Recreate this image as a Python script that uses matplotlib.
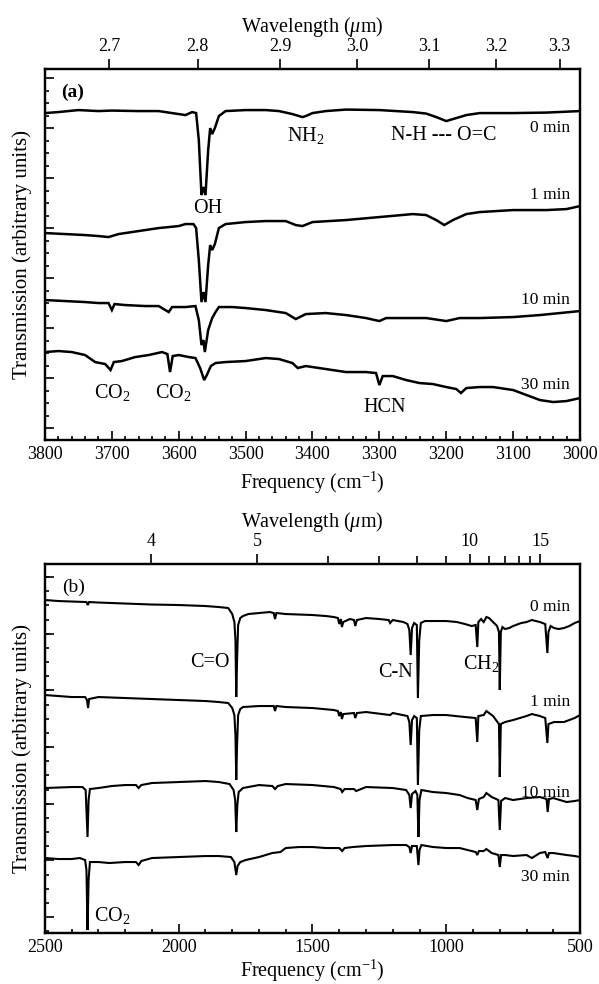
import matplotlib
matplotlib.use('Agg')
import matplotlib.pyplot as plt
from matplotlib.ticker import MultipleLocator, NullFormatter

plt.rcParams['font.family'] = ['Liberation Serif', 'DejaVu Serif']
plt.rcParams['mathtext.fontset'] = 'custom'
plt.rcParams['mathtext.rm'] = 'Liberation Serif'
plt.rcParams['mathtext.it'] = 'Liberation Serif:italic'
plt.rcParams['mathtext.bf'] = 'Liberation Serif:bold'

# ---------------- Panel (a) data: frequency (cm-1) vs transmission (arb.) ----
A0_NU = [3800, 3780, 3750, 3720, 3700, 3660, 3630, 3600, 3590, 3580, 3574, 3570, 3566, 3563, 3560,
         3556, 3553, 3550, 3546, 3540, 3530, 3500, 3470, 3450, 3430, 3415, 3410, 3400, 3380, 3350,
         3300, 3250, 3230, 3215, 3200, 3185, 3170, 3150, 3100, 3050, 3000]
A0_T = [32.7, 32.8, 33.0, 32.9, 32.95, 32.9, 32.9, 32.6, 32.5, 32.8, 32.7, 30.0, 24.5, 25.3, 24.5,
        29.0, 31.2, 30.6, 31.2, 32.4, 32.9, 33.0, 33.0, 32.9, 32.6, 32.3, 32.4, 32.7, 32.9, 33.05,
        33.0, 32.8, 32.65, 32.3, 31.9, 32.2, 32.5, 32.7, 32.7, 32.75, 32.9]

A1_NU = [3800, 3770, 3740, 3720, 3705, 3690, 3660, 3630, 3600, 3590, 3578, 3574, 3570, 3566, 3563,
         3560, 3556, 3553, 3550, 3546, 3540, 3530, 3500, 3470, 3440, 3425, 3415, 3400, 3350, 3300,
         3250, 3230, 3215, 3203, 3190, 3170, 3150, 3100, 3050, 3020, 3000]
A1_T = [20.7, 20.6, 20.5, 20.4, 20.3, 20.6, 20.9, 21.2, 21.4, 21.6, 21.6, 21.2, 18.0, 13.8, 14.8,
        13.8, 17.5, 19.5, 19.0, 19.6, 21.2, 21.6, 21.8, 21.9, 21.9, 21.5, 21.4, 21.8, 22.0, 22.3,
        22.6, 22.5, 22.0, 21.5, 22.0, 22.6, 22.8, 23.0, 23.0, 23.1, 23.4]

A10_NU = [3800, 3770, 3740, 3720, 3705, 3700, 3696, 3680, 3650, 3630, 3615, 3610, 3590, 3575, 3570,
          3566, 3563, 3561, 3556, 3550, 3545, 3540, 3520, 3500, 3470, 3440, 3425, 3410, 3380, 3350,
          3320, 3300, 3290, 3260, 3230, 3200, 3180, 3150, 3100, 3060, 3030, 3000]
A10_T = [14.0, 13.9, 13.8, 13.7, 13.7, 13.0, 13.6, 13.5, 13.4, 13.4, 12.8, 13.3, 13.3, 13.4, 12.0,
         9.5, 10.0, 8.8, 11.0, 12.2, 12.8, 13.3, 13.3, 13.2, 13.0, 12.7, 12.1, 12.6, 12.7, 12.5,
         12.2, 11.9, 12.2, 12.2, 12.2, 11.9, 12.2, 12.2, 12.3, 12.5, 12.7, 12.9]

A30_NU = [3800, 3780, 3760, 3740, 3725, 3710, 3702, 3697, 3685, 3665, 3645, 3625, 3617, 3613, 3609,
          3600, 3585, 3575, 3568, 3562, 3558, 3552, 3545, 3530, 3500, 3470, 3450, 3430, 3422, 3410,
          3380, 3350, 3320, 3305, 3300, 3295, 3280, 3260, 3240, 3220, 3200, 3185, 3178, 3170, 3150,
          3130, 3100, 3080, 3060, 3040, 3020, 3000]
A30_T = [8.8, 8.9, 8.8, 8.5, 7.8, 7.6, 7.0, 7.8, 7.9, 8.3, 8.5, 8.8, 8.6, 6.8, 8.4,
         8.5, 8.3, 8.2, 7.2, 6.0, 6.5, 7.4, 7.7, 7.8, 7.9, 8.2, 8.1, 7.7, 7.2, 7.4,
         7.1, 6.8, 6.8, 6.7, 5.5, 6.4, 6.4, 6.0, 5.7, 5.6, 5.3, 5.1, 4.7, 5.2, 5.3,
         5.3, 5.0, 4.5, 4.0, 3.8, 3.9, 4.2]

# ---------------- Panel (b) data ----------------
B0_NU = [2500, 2450, 2400, 2345, 2340, 2335, 2300, 2200, 2100, 2000, 1900, 1850, 1815, 1800, 1792,
         1788, 1785, 1782, 1778, 1770, 1760, 1740, 1700, 1660, 1645, 1640, 1635, 1600, 1550, 1500,
         1450, 1420, 1405, 1400, 1394, 1390, 1385, 1360, 1345, 1340, 1334, 1300, 1250, 1215, 1210,
         1200, 1160, 1145, 1138, 1133, 1128, 1120, 1110, 1106, 1101, 1095, 1080, 1050, 1000, 960,
         930, 905, 890, 884, 880, 870, 860, 850, 840, 825, 810, 803, 800, 796, 790,
         780, 765, 750, 720, 700, 680, 650, 630, 622, 618, 610, 597, 580, 560, 540,
         520, 500]
B0_T = [33.3, 33.2, 33.15, 33.1, 32.8, 33.1, 33.05, 32.95, 32.85, 32.8, 32.7, 32.6, 32.5, 31.9, 31.1,
        29.3, 23.6, 27.3, 30.8, 31.5, 31.7, 31.9, 32.0, 32.1, 32.0, 31.4, 32.0, 31.9, 31.85, 31.8,
        31.7, 31.6, 31.5, 30.9, 31.4, 30.6, 31.1, 31.4, 31.3, 30.7, 31.3, 31.5, 31.4, 31.3, 31.0,
        31.3, 31.1, 30.9, 30.3, 27.8, 30.5, 31.0, 30.8, 23.5, 29.3, 31.0, 31.2, 31.2, 31.2, 31.1,
        30.9, 30.7, 30.8, 28.6, 31.1, 31.4, 31.1, 31.6, 31.5, 31.1, 30.7, 30.1, 24.3, 30.1, 30.6,
        30.4, 30.5, 30.7, 31.0, 31.1, 31.3, 31.1, 30.9, 28.0, 30.1, 30.7, 30.5, 30.4, 30.5, 30.7,
        31.0, 31.2]

B1_NU = [2500, 2450, 2400, 2350, 2343, 2339, 2335, 2300, 2200, 2100, 2000, 1900, 1850, 1815, 1800,
         1792, 1788, 1785, 1782, 1778, 1770, 1760, 1700, 1645, 1640, 1635, 1600, 1500, 1420, 1405,
         1400, 1394, 1390, 1385, 1345, 1340, 1334, 1300, 1210, 1200, 1145, 1138, 1133, 1128, 1120,
         1110, 1106, 1101, 1095, 1050, 1000, 930, 890, 884, 880, 860, 850, 825, 803, 800,
         796, 780, 750, 700, 680, 650, 630, 622, 618, 597, 560, 520, 500]
B1_T = [23.8, 23.7, 23.6, 23.6, 23.3, 22.5, 23.4, 23.6, 23.5, 23.4, 23.3, 23.2, 23.1, 23.0, 22.5,
        21.8, 19.8, 15.3, 18.8, 21.8, 22.4, 22.6, 22.7, 22.7, 22.2, 22.7, 22.6, 22.5, 22.3, 22.2,
        21.7, 22.1, 21.4, 21.9, 22.0, 21.5, 22.0, 22.1, 21.8, 22.0, 21.7, 21.1, 18.8, 21.3, 21.7,
        21.5, 14.8, 20.3, 21.7, 21.8, 21.8, 21.6, 21.5, 19.1, 21.7, 21.8, 22.2, 21.7, 20.9, 15.6,
        20.9, 21.1, 21.3, 21.7, 21.9, 21.7, 21.5, 19.0, 20.9, 21.1, 21.1, 21.5, 21.8]

B10_NU = [2500, 2450, 2400, 2360, 2348, 2341, 2337, 2332, 2300, 2250, 2200, 2160, 2150, 2140, 2100,
          2000, 1900, 1850, 1810, 1795, 1789, 1785, 1781, 1776, 1760, 1700, 1650, 1640, 1630, 1600,
          1500, 1420, 1395, 1389, 1380, 1345, 1337, 1300, 1200, 1150, 1138, 1133, 1128, 1115, 1108,
          1104, 1100, 1093, 1050, 1000, 950, 920, 890, 884, 878, 860, 850, 830, 805, 800,
          795, 780, 750, 700, 650, 625, 621, 616, 600, 550, 520, 500]
B10_T = [14.5, 14.55, 14.6, 14.6, 14.3, 9.6, 13.3, 14.4, 14.5, 14.7, 14.8, 14.8, 14.5, 14.8, 15.0,
         15.1, 15.2, 15.1, 14.9, 14.3, 13.3, 10.1, 12.8, 14.1, 14.5, 14.8, 14.7, 14.4, 14.7, 14.9,
         14.8, 14.6, 14.4, 14.1, 14.4, 14.4, 14.2, 14.6, 14.5, 14.3, 13.8, 12.5, 13.9, 14.2, 13.8,
         9.6, 13.3, 14.3, 14.1, 14.0, 13.8, 13.5, 13.3, 12.3, 13.4, 13.6, 14.0, 13.6, 13.3, 10.3,
         13.2, 13.5, 13.3, 13.5, 13.6, 13.4, 12.1, 13.4, 13.5, 13.1, 13.2, 13.3]

B30_NU = [2500, 2450, 2400, 2370, 2350, 2345, 2341, 2337, 2332, 2300, 2260, 2200, 2160, 2150, 2140,
          2100, 2000, 1900, 1850, 1805, 1792, 1785, 1780, 1770, 1750, 1700, 1650, 1620, 1600, 1550,
          1500, 1450, 1400, 1389, 1380, 1350, 1300, 1200, 1150, 1138, 1133, 1128, 1110, 1104, 1100,
          1093, 1050, 1000, 950, 920, 890, 884, 878, 860, 850, 830, 805, 800, 795, 780,
          750, 700, 680, 650, 630, 621, 616, 600, 550, 520, 500]
B30_T = [7.5, 7.4, 7.4, 7.5, 7.3, 6.3, 0.3, 5.3, 7.1, 7.1, 7.0, 7.1, 7.1, 6.8, 7.2,
         7.5, 7.6, 7.7, 7.7, 7.6, 7.1, 5.8, 6.7, 7.1, 7.3, 7.6, 8.0, 8.1, 8.5, 8.6,
         8.6, 8.5, 8.5, 8.2, 8.5, 8.6, 8.7, 8.8, 8.8, 8.6, 8.0, 8.7, 8.7, 6.8, 8.3,
         8.8, 8.6, 8.5, 8.5, 8.3, 8.1, 7.8, 8.2, 8.2, 8.4, 8.0, 7.8, 6.6, 7.8, 7.8,
         7.7, 7.8, 7.5, 8.0, 8.1, 7.5, 8.0, 8.0, 7.8, 7.7, 7.6]

# ---------------- axes ranges and tick values ----------------
XLIM_A = (3800, 3000)
XLIM_B = (2500, 500)
YLIM_A = (0, 37.1)
YLIM_B = (0, 36.9)
WL_A = [2.7, 2.8, 2.9, 3.0, 3.1, 3.2, 3.3]
WL_B_MAJOR = [4, 5, 10, 15]
WL_B_MINOR = [6, 7, 8, 9, 11, 12, 13, 14]
TOP_B_RANGE = (3000, 480)   # frequency span shown by the top axis of panel (b)

# labels: (text, x, y)
TIME_A = [('0 min', 3015, 31.2), ('1 min', 3015, 24.5), ('10 min', 3015, 14.0), ('30 min', 3015, 5.5)]
BANDS_A = [('OH', 3556, 23.2), ('NH$_2$', 3410, 30.5), ('N-H --- O=C', 3203, 30.5),
           ('CO$_2$', 3700, 4.8), ('CO$_2$', 3609, 4.8), ('HCN', 3292, 3.3)]
TIME_B = [('0 min', 537, 32.6), ('1 min', 537, 23.1), ('10 min', 537, 14.0), ('30 min', 537, 5.6)]
BANDS_B = [('C=O', 1883, 27.1), ('C-N', 1188, 26.1), ('CH$_2$', 868, 27.0), ('CO$_2$', 2250, 1.8)]

fig = plt.figure(figsize=(5.99, 9.84), dpi=100)
axA = fig.add_axes([0.0751, 0.5528, 0.8932, 0.3770])
axB = fig.add_axes([0.0751, 0.0518, 0.8932, 0.3750])


def style(ax, xlim, ylim, xmaj, xmin, ymaj, ymin, yoff):
    ax.set_xlim(*xlim)
    ax.set_ylim(*ylim)
    ax.xaxis.set_major_locator(MultipleLocator(xmaj))
    ax.xaxis.set_minor_locator(MultipleLocator(xmin))
    ax.yaxis.set_major_locator(MultipleLocator(ymaj, offset=yoff))
    ax.yaxis.set_minor_locator(MultipleLocator(ymin, offset=yoff))
    ax.yaxis.set_major_formatter(NullFormatter())
    ax.tick_params(which='both', direction='in', top=True, right=False, width=1.2)
    ax.tick_params(which='major', length=6.5)
    ax.tick_params(which='minor', length=3.2)
    ax.tick_params(axis='x', labelsize=13, pad=4)
    for s in ax.spines.values():
        s.set_linewidth(1.6)


style(axA, XLIM_A, YLIM_A, 100, 20, 5, 1.25, 1.2)
style(axB, XLIM_B, YLIM_B, 500, 100, 5.667, 1.4167, 1.6)

for nu, t in [(A0_NU, A0_T), (A1_NU, A1_T), (A10_NU, A10_T), (A30_NU, A30_T)]:
    axA.plot(nu, t, color='black', lw=1.8, solid_joinstyle='miter')
for nu, t in [(B0_NU, B0_T), (B1_NU, B1_T), (B10_NU, B10_T), (B30_NU, B30_T)]:
    axB.plot(nu, t, color='black', lw=1.5, solid_joinstyle='miter')

for txt, x, y in TIME_A:
    axA.text(x, y, txt, fontsize=12.5, ha='right', va='center')
for txt, x, y in BANDS_A:
    axA.text(x, y, txt, fontsize=14.5, ha='center', va='center')
for txt, x, y in TIME_B:
    axB.text(x, y, txt, fontsize=12.5, ha='right', va='center')
for txt, x, y in BANDS_B:
    axB.text(x, y, txt, fontsize=14.5, ha='center', va='center')

axA.text(0.03, 0.938, '(a)', transform=axA.transAxes, fontsize=14, fontweight='bold', va='center')
axB.text(0.032, 0.938, '(b)', transform=axB.transAxes, fontsize=14, va='center')

for ax, h, off in [(axA, 371, 43), (axB, 369, 38)]:
    ax.set_xlabel('Frequency (cm$^{-1}$)', fontsize=14.5)
    ax.xaxis.set_label_coords(0.5, -off / h)
    ax.xaxis.label.set_va('center')
    ax.set_ylabel('Transmission (arbitrary units)', fontsize=15)
    ax.yaxis.set_label_coords(-23 / 535, 0.5)
    ax.yaxis.label.set_va('center')

# ---------------- top wavelength axes ----------------
tA = axA.twiny()
tA.set_xlim(*XLIM_A)
tA.set_xticks([1e4 / w for w in WL_A], ['%.1f' % w for w in WL_A])
tA.tick_params(axis='x', which='major', direction='out', length=7, width=1.2, labelsize=13, pad=3)

tB = axB.twiny()
tB.set_xlim(*XLIM_B)
sc = (XLIM_B[0] - XLIM_B[1]) / (TOP_B_RANGE[0] - TOP_B_RANGE[1])


def top_pos(w):
    return XLIM_B[0] - (TOP_B_RANGE[0] - 1e4 / w) * sc


tB.set_xticks([top_pos(w) for w in WL_B_MAJOR], [str(w) for w in WL_B_MAJOR])
tB.set_xticks([top_pos(w) for w in WL_B_MINOR], minor=True)
tB.tick_params(axis='x', which='major', direction='out', length=7, width=1.2, labelsize=13, pad=3)
tB.tick_params(axis='x', which='minor', direction='out', length=6, width=1.2)

for t, h in [(tA, 371), (tB, 369)]:
    t.set_xlabel(r'Wavelength ($\mu$m)', fontsize=14.5)
    t.xaxis.set_label_coords(0.5, 1 + 42 / h)
    t.xaxis.label.set_va('center')
    for s in t.spines.values():
        s.set_linewidth(1.6)

fig.savefig('out.png', dpi=100)
